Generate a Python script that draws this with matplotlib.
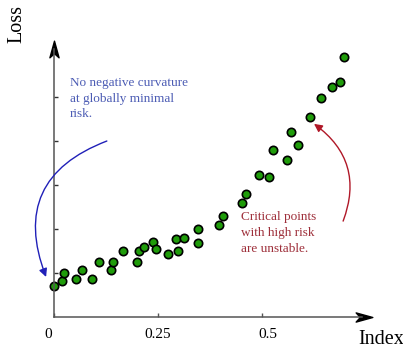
"""
Loss vs index scatter with annotated arrows
"""

import matplotlib
matplotlib.use("Agg")
import matplotlib.pyplot as plt
from matplotlib.path import Path
from matplotlib.transforms import ScaledTranslation

# data
index = [0.0, 0.019, 0.024, 0.053, 0.068, 0.091, 0.108, 0.137, 0.143, 0.166,
         0.200, 0.205, 0.217, 0.237, 0.244, 0.274, 0.293, 0.299, 0.313, 0.345,
         0.347, 0.396, 0.407, 0.451, 0.462, 0.493, 0.518, 0.526, 0.561, 0.570,
         0.587, 0.616, 0.641, 0.669, 0.687, 0.697]
loss = [0.70, 0.82, 0.99, 0.86, 1.06, 0.86, 1.25, 1.07, 1.26, 1.49,
        1.26, 1.50, 1.60, 1.70, 1.55, 1.44, 1.77, 1.51, 1.80, 2.01,
        1.68, 2.08, 2.29, 2.60, 2.79, 3.22, 3.18, 3.80, 3.56, 4.20,
        3.92, 4.54, 4.98, 5.23, 5.35, 5.91]
xticks = [0, 0.25, 0.5]
xtick_labels = ["0", "0.25", "0.5"]
yticks = [1, 2, 3, 4, 5]

plt.rcParams["font.family"] = ["Liberation Serif", "DejaVu Serif"]

fig = plt.figure(figsize=(4.03, 3.56), dpi=100)
ax = fig.add_axes([0, 0, 1, 1])
ax.set_xlim(-0.1298, 0.8389)
ax.set_ylim(-0.886, 7.205)

# axes as arrows through the origin
for side in ["top", "right"]:
    ax.spines[side].set_visible(False)
ax.spines["left"].set_position(("data", 0))
ax.spines["bottom"].set_position(("data", 0))
ax.spines["left"].set_bounds(0, 6.1)
ax.spines["bottom"].set_bounds(0, 0.74)
for side in ["left", "bottom"]:
    ax.spines[side].set_color("#555555")
    ax.spines[side].set_linewidth(1.1)

stealth_right = Path([(1, 0), (-1, 0.55), (-0.5, 0), (-1, -0.55), (1, 0)],
                     [Path.MOVETO, Path.LINETO, Path.LINETO, Path.LINETO, Path.CLOSEPOLY])
stealth_up = Path([(0, 1), (0.55, -1), (0, -0.5), (-0.55, -1), (0, 1)],
                  [Path.MOVETO, Path.LINETO, Path.LINETO, Path.LINETO, Path.CLOSEPOLY])
ax.plot([0.745], [0], marker=stealth_right, ms=12, color="black", clip_on=False)
ax.plot([0], [6.1], marker=stealth_up, ms=12, color="black", clip_on=False)

ax.set_xticks(xticks)
ax.set_xticklabels(xtick_labels, fontsize=11)
ax.set_yticks(yticks)
ax.set_yticklabels([])
ax.tick_params(axis="x", direction="in", length=3, width=1, color="#555555", pad=8)
ax.tick_params(axis="y", direction="in", length=3, width=1, color="#333333")
for lab, dx in zip(ax.get_xticklabels(), [-6, 0, 6]):
    lab.set_transform(lab.get_transform() + ScaledTranslation(dx / 100, 0, fig.dpi_scale_trans))

ax.text(-0.0885, 6.66, "Loss", rotation=90, fontsize=14.5, ha="center", va="center")
ax.text(0.786, -0.52, "Index", fontsize=14.5, ha="center", va="center")

# the points
ax.plot(index, loss, "o", ms=6, mfc="#1f9c0a", mec="black", mew=1.2, clip_on=False)

# annotations
ax.text(0.0385, 5.45, "No negative curvature\nat globally minimal\nrisk.",
        fontsize=9.5, color="#4c5cb4", va="top", ha="left", linespacing=1.4)
ax.annotate("", xy=(-0.019, 0.91), xytext=(0.127, 4.0),
            arrowprops=dict(arrowstyle="-|>", color="#2020b8", lw=1.0,
                            connectionstyle="arc3,rad=0.5", mutation_scale=12,
                            shrinkA=0, shrinkB=0))

ax.text(0.449, 2.40, "Critical points\nwith high risk\nare unstable.",
        fontsize=9.5, color="#9e2f3a", va="top", ha="left", linespacing=1.4)
ax.annotate("", xy=(0.625, 4.39), xytext=(0.695, 2.18),
            arrowprops=dict(arrowstyle="-|>", color="#b01828", lw=1.0,
                            connectionstyle="arc3,rad=0.38", mutation_scale=12,
                            shrinkA=0, shrinkB=0))

fig.savefig("out.png", dpi=100)
